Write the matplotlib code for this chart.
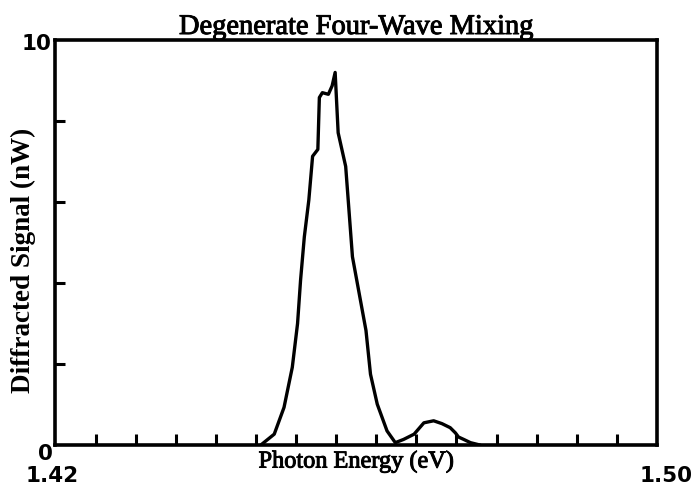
import numpy as np
import matplotlib.pyplot as plt
import matplotlib.patheffects as pe

# Four-wave mixing spectrum: photon energy (eV) vs diffracted signal (nW)
energy = [1.4473, 1.4491, 1.4504, 1.4515, 1.4522, 1.4526, 1.4531, 1.4537,
          1.4542, 1.4549, 1.4551, 1.4555, 1.4563, 1.4568, 1.4572, 1.4576,
          1.4586, 1.4589, 1.4595, 1.4604, 1.4613, 1.4619, 1.4628, 1.4641,
          1.4652, 1.4663, 1.4677, 1.4690, 1.4703, 1.4714, 1.4725, 1.4732,
          1.4736, 1.4743, 1.4752, 1.4765]
signal = [0.0, 0.27, 0.93, 1.92, 3.00, 4.07, 5.14, 6.05,
          7.13, 7.30, 8.58, 8.70, 8.66, 8.87, 9.20, 7.71,
          6.88, 6.14, 4.65, 3.74, 2.83, 1.75, 1.01, 0.35,
          0.06, 0.14, 0.27, 0.55, 0.60, 0.53, 0.43, 0.30,
          0.20, 0.14, 0.06, 0.0]

x_min, x_max = 1.42, 1.50
y_min, y_max = 0, 10
y_ticks = [2, 4, 6, 8]
x_ticks = np.linspace(x_min, x_max, 16)[1:-1]

fig = plt.figure(figsize=(6.93, 4.94), dpi=100)
ax = fig.add_axes([0.080, 0.099, 0.868, 0.820])

ax.plot(energy, signal, color='black', linewidth=2.4,
        solid_joinstyle='round', solid_capstyle='round')

ax.set_xlim(x_min, x_max)
ax.set_ylim(y_min, y_max)
ax.set_xticks(x_ticks)
ax.set_yticks(y_ticks)
ax.set_xticklabels([])
ax.set_yticklabels([])
ax.tick_params(axis='x', direction='in', length=8, width=2.2)
ax.tick_params(axis='y', direction='in', length=7, width=2.2)
for s in ax.spines.values():
    s.set_linewidth(2.6)

# thicken the serif text a little
heavy = [pe.withStroke(linewidth=0.7, foreground='black')]
serif = 'Liberation Serif'
ax.set_title('Degenerate Four-Wave Mixing', family=serif, fontsize=20.5,
             pad=4, path_effects=heavy)
ax.set_ylabel('Diffracted Signal (nW)', family=serif, fontsize=19.5,
              fontweight='bold')
ax.yaxis.set_label_coords(-0.032, 0.455)
ax.set_xlabel('Photon Energy (eV)', family=serif, fontsize=17.5, labelpad=1,
              path_effects=heavy)

# end labels drawn in heavy sans
bold = dict(family='DejaVu Sans', fontsize=15.5, fontweight='heavy',
            transform=ax.transAxes)
ax.text(-0.006, 0.99, '10', ha='right', va='center', **bold)
ax.text(-0.016, -0.022, '0', ha='center', va='center', **bold)
ax.text(-0.005, -0.076, '1.42', ha='center', va='center', **bold)
ax.text(1.015, -0.076, '1.50', ha='center', va='center', **bold)

fig.savefig('out.png', dpi=100)
